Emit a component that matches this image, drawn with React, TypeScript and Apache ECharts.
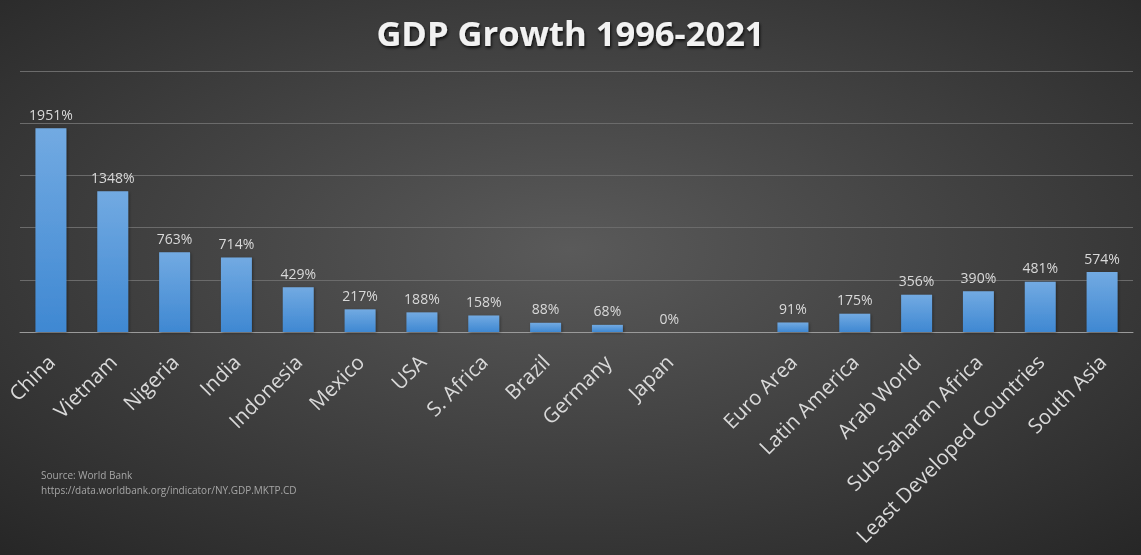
import React, { useEffect, useRef } from "react";
import * as echarts from "echarts";

const categories = [
  "China", "Vietnam", "Nigeria", "India", "Indonesia", "Mexico", "USA", "S. Africa",
  "Brazil", "Germany", "Japan", "", "Euro Area", "Latin America", "Arab World",
  "Sub-Saharan Africa", "Least Developed Countries", "South Asia",
];
const growthValues: (number | null)[] = [
  1951, 1348, 763, 714, 429, 217, 188, 158, 88, 68, 0, null, 91, 175, 356, 390, 481, 574,
];
const titleText = "GDP Growth 1996-2021";
const sourceLines = ["Source: World Bank", "https://data.worldbank.org/indicator/NY.GDP.MKTP.CD"];

export default function App() {
  const ref = useRef<HTMLDivElement>(null);
  useEffect(() => {
    if (!ref.current) return;
    const chart = echarts.init(ref.current, null, { renderer: "svg" });
    chart.setOption({
      animation: false,
      backgroundColor: new echarts.graphic.RadialGradient(0.5, 0.45, 0.75, [
        { offset: 0, color: "#5a5a5a" },
        { offset: 1, color: "#262626" },
      ]),
      title: {
        text: titleText,
        left: "center",
        top: 10,
        textStyle: {
          color: "#f2f2f2",
          fontFamily: "Open Sans",
          fontWeight: "bold",
          fontSize: 34.5,
          textShadowColor: "rgba(0,0,0,0.8)",
          textShadowBlur: 3,
          textShadowOffsetX: 1,
          textShadowOffsetY: 2,
        },
      },
      graphic: [
        {
          type: "text",
          left: 41,
          top: 467,
          style: {
            text: sourceLines.join("\n"),
            fill: "#a6a6a6",
            font: "10px 'Open Sans'",
            lineHeight: 15,
          },
        },
      ],
      grid: { left: 20, right: 8, top: 71, bottom: 223, containLabel: false },
      xAxis: {
        type: "category",
        data: categories,
        axisLine: { lineStyle: { color: "#9a9a9a", width: 1 } },
        axisTick: { show: false },
        axisLabel: {
          rotate: 45,
          interval: 0,
          margin: 26,
          color: "#d9d9d9",
          fontFamily: "Open Sans",
          fontSize: 20.5,
        },
      },
      yAxis: {
        type: "value",
        min: 0,
        max: 2500,
        interval: 500,
        axisLabel: { show: false },
        axisLine: { show: false },
        axisTick: { show: false },
        splitLine: { lineStyle: { color: "#6b6b6b", width: 1 } },
      },
      series: [
        {
          type: "bar",
          data: growthValues.map((v) => (v === null ? "-" : v)),
          barWidth: "50%",
          itemStyle: {
            color: new echarts.graphic.LinearGradient(0, 0, 0, 1, [
              { offset: 0, color: "#72aae2" },
              { offset: 1, color: "#3f88d2" },
            ]),
            shadowColor: "rgba(0,0,0,0.4)",
            shadowBlur: 3,
            shadowOffsetX: 1,
            shadowOffsetY: 1,
          },
          label: {
            show: true,
            position: "top",
            distance: 7,
            color: "#d9d9d9",
            fontFamily: "Open Sans",
            fontSize: 14,
            formatter: (p: any) => `${p.value}%`,
          },
        },
      ],
    });
    return () => chart.dispose();
  }, []);
  return (
    <div
      ref={ref}
      style={{ position: "fixed", left: 0, top: 0, width: 1141, height: 555 }}
    />
  );
}
